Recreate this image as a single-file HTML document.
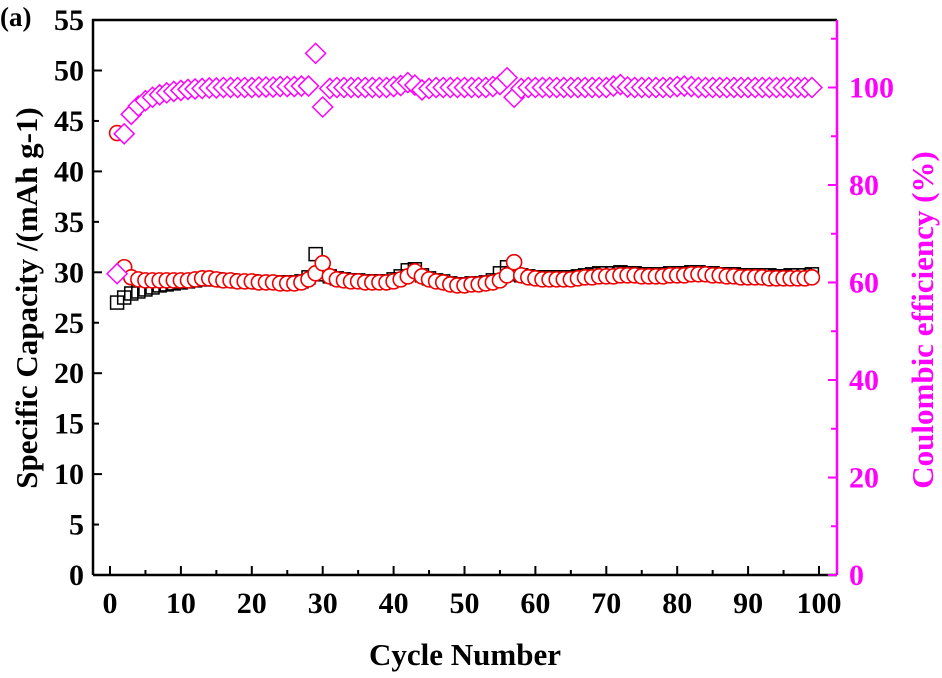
<!DOCTYPE html>
<html><head><meta charset="utf-8"><style>
body{margin:0;background:#fff}
svg text{font-family:"Liberation Serif",serif;font-weight:bold}
</style></head><body>
<svg id="chart" width="942" height="673" xmlns="http://www.w3.org/2000/svg">
<g id="axes"></g><g id="marks"></g>
</svg>
<script>
const cycles = Array.from({length:99},(_,i)=>i+1);
const chargeCap = [27.0,27.5,27.9,28.1,28.3,28.5,28.7,28.8,28.9,29.0,
29.1,29.2,29.3,29.3,29.3,29.2,29.2,29.1,29.1,29.1,
29.0,29.0,29.0,29.0,29.0,29.0,29.1,29.5,31.8,29.8,
29.6,29.4,29.3,29.2,29.2,29.1,29.1,29.1,29.1,29.3,
29.6,30.2,30.3,29.7,29.4,29.2,29.1,28.9,28.8,28.8,
28.9,28.9,29.0,29.2,29.9,30.5,29.8,29.7,29.6,29.5,
29.5,29.5,29.5,29.5,29.5,29.6,29.7,29.8,29.9,29.9,
29.9,30.0,29.9,29.9,29.8,29.8,29.8,29.8,29.9,29.9,
29.9,30.0,30.0,29.9,29.9,29.8,29.8,29.8,29.7,29.7,
29.7,29.7,29.7,29.6,29.6,29.7,29.7,29.7,29.8];
const dischargeCap = [43.8,30.5,29.5,29.3,29.2,29.2,29.2,29.2,29.2,29.2,
29.2,29.3,29.4,29.4,29.3,29.2,29.2,29.1,29.1,29.1,
29.0,29.0,29.0,28.9,28.9,28.9,29.0,29.3,29.9,30.9,
29.6,29.3,29.2,29.1,29.1,29.0,29.0,29.0,29.0,29.1,
29.3,29.6,30.1,29.6,29.3,29.1,29.0,28.8,28.7,28.7,
28.8,28.8,28.9,29.0,29.2,29.7,31.0,29.7,29.5,29.4,
29.3,29.3,29.3,29.3,29.3,29.4,29.5,29.5,29.6,29.6,
29.6,29.7,29.7,29.7,29.6,29.6,29.6,29.6,29.7,29.7,
29.7,29.8,29.8,29.8,29.7,29.7,29.6,29.6,29.5,29.5,
29.5,29.5,29.4,29.4,29.4,29.4,29.4,29.4,29.5];
const coulombicEff = [61.8,90.5,94.5,96.2,97.3,98.0,98.5,98.9,99.2,99.4,
99.6,99.7,99.8,99.9,99.9,100,100,100,100,100,
100.1,100.1,100.1,100.2,100.2,100.2,100.3,100.3,107.0,96.0,
99.8,100,100,100,100,100,100,100,100,100.2,
100.4,101.0,100.5,99.5,99.8,100,100,100,100,100,
100,100,100,100.2,100.6,102.0,98.0,99.8,100,100,
100,100,100,100,100,100,100,100,100,100,
100.3,100.6,100.1,100,100,100,100,100,100,100.2,
100.3,100.2,100,100,100,100,100,100,100,100,
100,100,100,100,100,100,100,100,100];
const xTicks=[0,10,20,30,40,50,60,70,80,90,100];
const yLeftTicks=[0,5,10,15,20,25,30,35,40,45,50,55];
const yRightTicks=[0,20,40,60,80,100];

const L=93,R=837,T=20,B=575;
const xS=v=>110+v*7.09;
const yL=v=>B-v*10.09;
const yR=v=>B-v*4.875;
const NS="http://www.w3.org/2000/svg";
function mk(parent,tag,attrs,text){const e=document.createElementNS(NS,tag);for(const k in attrs)e.setAttribute(k,attrs[k]);if(text!==undefined)e.textContent=text;parent.appendChild(e);return e;}
const ax=document.getElementById('axes'),mg=document.getElementById('marks');

let f=mk(ax,'path',{d:`M${L},${B}L${L},${T}L${R},${T}`,fill:'none',stroke:'#000','stroke-width':2.5});


let ra=mk(ax,'line',{x1:R,y1:T,x2:R,y2:B,stroke:'#f0f','stroke-width':2.5});


let ba=mk(ax,'line',{x1:L,y1:B,x2:R,y2:B,stroke:'#000','stroke-width':2.5});



xTicks.forEach(v=>{const x=xS(v);
mk(ax,'line',{x1:x,y1:B,x2:x,y2:B-9,stroke:'#000','stroke-width':2});
if(v<100)mk(ax,'line',{x1:xS(v+5),y1:B,x2:xS(v+5),y2:B-5,stroke:'#000','stroke-width':2});
const t=mk(ax,'text',{x:x,y:B+38,'text-anchor':'middle','font-size':30},v);

});
yLeftTicks.forEach(v=>{const y=yL(v);
mk(ax,'line',{x1:L,y1:y,x2:L+(v%10==0?9:6),y2:y,stroke:'#000','stroke-width':2});
const t=mk(ax,'text',{x:L-9,y:y+10,'text-anchor':'end','font-size':30},v);

});
yRightTicks.forEach(v=>{const y=yR(v);
mk(ax,'line',{x1:R,y1:y,x2:R-9,y2:y,stroke:'#f0f','stroke-width':2});
mk(ax,'line',{x1:R,y1:yR(v+10),x2:R-6,y2:yR(v+10),stroke:'#f0f','stroke-width':2});
const t=mk(ax,'text',{x:R+12,y:y+10,'font-size':30,fill:'#f0f'},v);

});

let xt=mk(ax,'text',{x:465,y:665,'text-anchor':'middle','font-size':31},'Cycle Number');


let yt=mk(ax,'text',{x:0,y:0,'text-anchor':'middle','font-size':31,transform:'translate(37,298) rotate(-90)'},'Specific Capacity /(mAh g-1)');


let rt=mk(ax,'text',{x:0,y:0,'text-anchor':'middle','font-size':31,fill:'#f0f',transform:'translate(933,320) rotate(-90)'},'Coulombic efficiency (%)');


let pl=mk(ax,'text',{x:0,y:26,'font-size':27},'(a)');



cycles.forEach((c,i)=>{const x=xS(c),y=yL(chargeCap[i]);
const s=mk(mg,'rect',{x:x-6.5,y:y-6.5,width:13,height:13,fill:'none',stroke:'#000','stroke-width':1.5});

});
cycles.forEach((c,i)=>{const x=xS(c),y=yL(dischargeCap[i]);
const s=mk(mg,'circle',{cx:x,cy:y,r:7.5,fill:'#fff',stroke:'#e00','stroke-width':1.6});

});
cycles.forEach((c,i)=>{const x=xS(c),y=yR(coulombicEff[i]);
const s=mk(mg,'path',{d:`M${x-10},${y}L${x},${y-10}L${x+10},${y}L${x},${y+10}Z`,fill:'#fff',stroke:'#f0f','stroke-width':1.5});

});
</script>
</body></html>
